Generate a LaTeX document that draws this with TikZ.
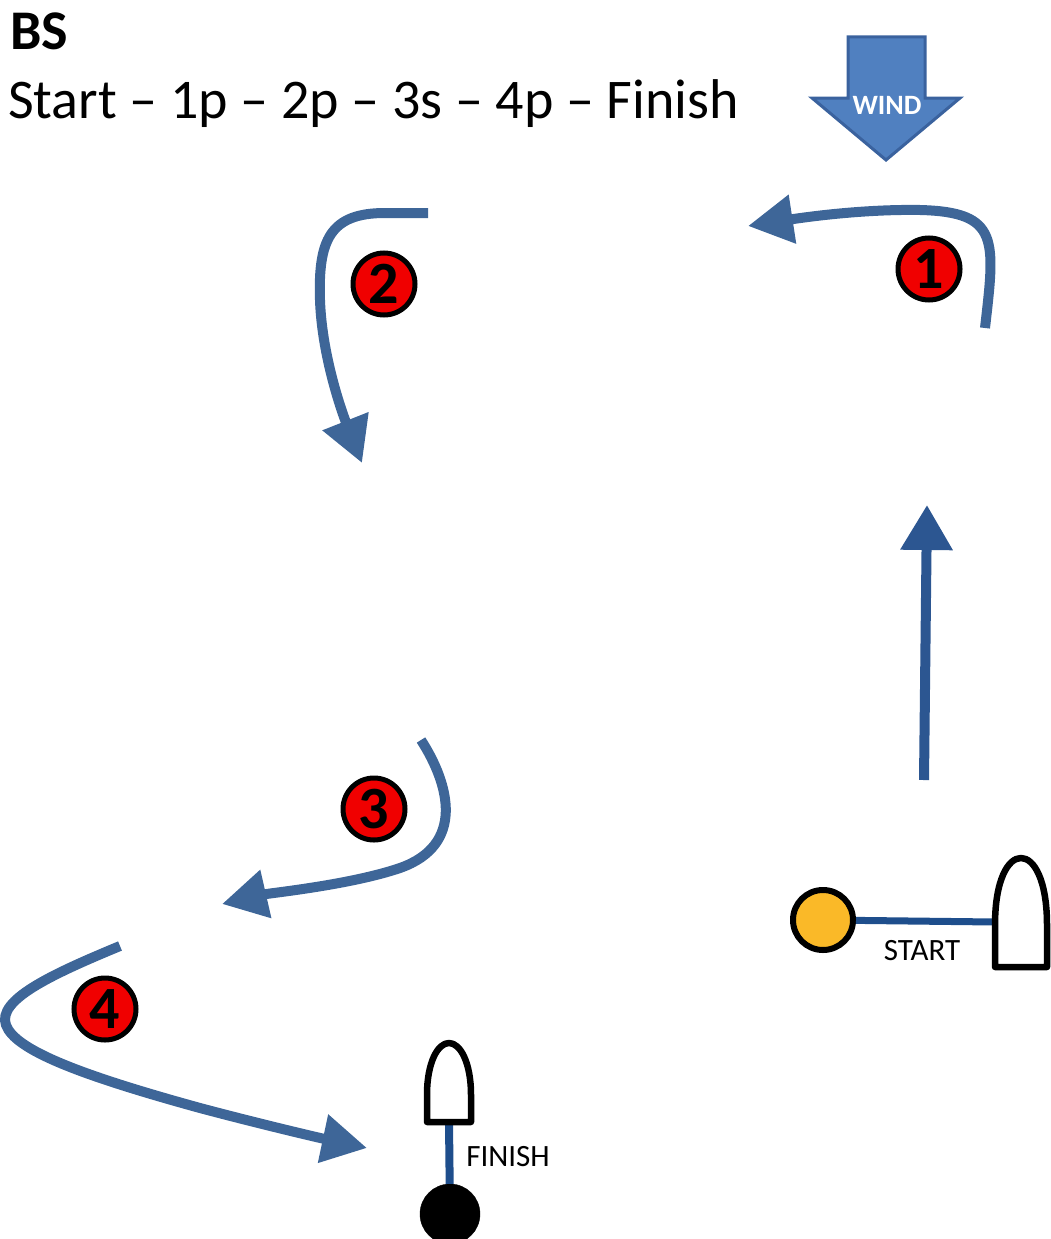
\documentclass[tikz,border=0pt]{standalone}
\usepackage{fontspec}
\setmainfont{Carlito}
\usetikzlibrary{arrows.meta}
\definecolor{course}{RGB}{62,102,152}
\definecolor{legblue}{RGB}{44,86,145}
\definecolor{lineblue}{RGB}{30,78,140}
\definecolor{windfill}{RGB}{80,128,192}
\definecolor{winddraw}{RGB}{58,98,158}
\definecolor{pinyellow}{RGB}{250,185,40}
\definecolor{markred}{RGB}{240,0,0}
\tikzset{
  courseline/.style={draw=course, line width=10pt, line cap=butt,
    -{Triangle[length=45pt,width=47pt]}},
  markcircle/.style={circle, fill=markred, draw=black, line width=5pt,
    minimum size=62pt, inner sep=0pt, font=\fontsize{60}{60}\selectfont\bfseries},
  buoy/.style={draw=black, fill=white, line width=6.5pt, line join=round},
  smalltext/.style={inner sep=0pt, font=\fontsize{31}{32}\selectfont},
}
\begin{document}
\begin{tikzpicture}[x=1pt,y=-1pt]
\useasboundingbox (0,0) rectangle (1051,1239);

% title
\node[inner sep=0pt, anchor=base west, font=\fontsize{56}{60}\selectfont\bfseries] (title) at (10,50) {BS};
\node[inner sep=0pt, anchor=base west, font=\fontsize{56}{60}\selectfont] (seq) at (8,118) {Start – 1p – 2p – 3s – 4p – Finish};

% wind arrow
\draw[fill=windfill, draw=winddraw, line width=3pt, line join=miter]
  (848,37) -- (925,37) -- (925,98) -- (960,98) -- (886,160) -- (812,98) -- (848,98) -- cycle;
\node[inner sep=0pt, text=white, font=\fontsize{28}{28}\selectfont\bfseries] (wind) at (887,105) {WIND};

% start leg
\draw[draw=legblue, line width=10pt, -{Triangle[length=45pt,width=50pt]}] (924,780) -- (927,505);

% course curves
\draw[courseline] (985,328) .. controls (995,240) and (1000,212) .. (920,210)
  .. controls (860,209) and (800,218) .. (748,226);
\draw[courseline] (428,213) -- (385,213) .. controls (330,213) and (318,240) .. (320,300)
  .. controls (322,360) and (345,420) .. (362,463);
\draw[courseline] (421,740) .. controls (450,785) and (465,845) .. (400,868)
  .. controls (350,885) and (270,893) .. (222,904);
\draw[courseline] (120,946) .. controls (50,975) and (-3,1000) .. (6,1025)
  .. controls (15,1050) and (80,1075) .. (200,1108)
  .. controls (260,1124) and (320,1138) .. (367,1148);

% marks
\node[markcircle] (m1) at (929,269) {1};
\node[markcircle] (m2) at (384,284) {2};
\node[markcircle] (m3) at (374,809) {3};
\node[markcircle] (m4) at (105,1009) {4};

% start line
\node[circle, fill=pinyellow, draw=black, line width=6pt, minimum size=60pt, inner sep=0pt] (pin) at (823,920) {};
\coordinate (sb) at (995,922);
\draw[draw=lineblue, line width=7pt] (pin) -- (sb);
\draw[buoy] (995,967) -- (995,925) .. controls (995,880) and (1008,858) .. (1021,858)
  .. controls (1034,858) and (1047,880) .. (1047,925) -- (1047,967) -- cycle;
\node[smalltext] (start) at (922,951) {START};

% finish line
\node[circle, fill=black, draw=black, minimum size=60pt, inner sep=0pt] (fpin) at (450,1214) {};
\coordinate (fb) at (449,1122);
\draw[draw=lineblue, line width=8pt] (fb) -- (fpin);
\draw[buoy] (427,1122) -- (427,1095) .. controls (427,1062) and (438,1043) .. (449,1043)
  .. controls (460,1043) and (471,1062) .. (471,1095) -- (471,1122) -- cycle;
\node[smalltext] (finish) at (508,1157) {FINISH};
\end{tikzpicture}
\end{document}
